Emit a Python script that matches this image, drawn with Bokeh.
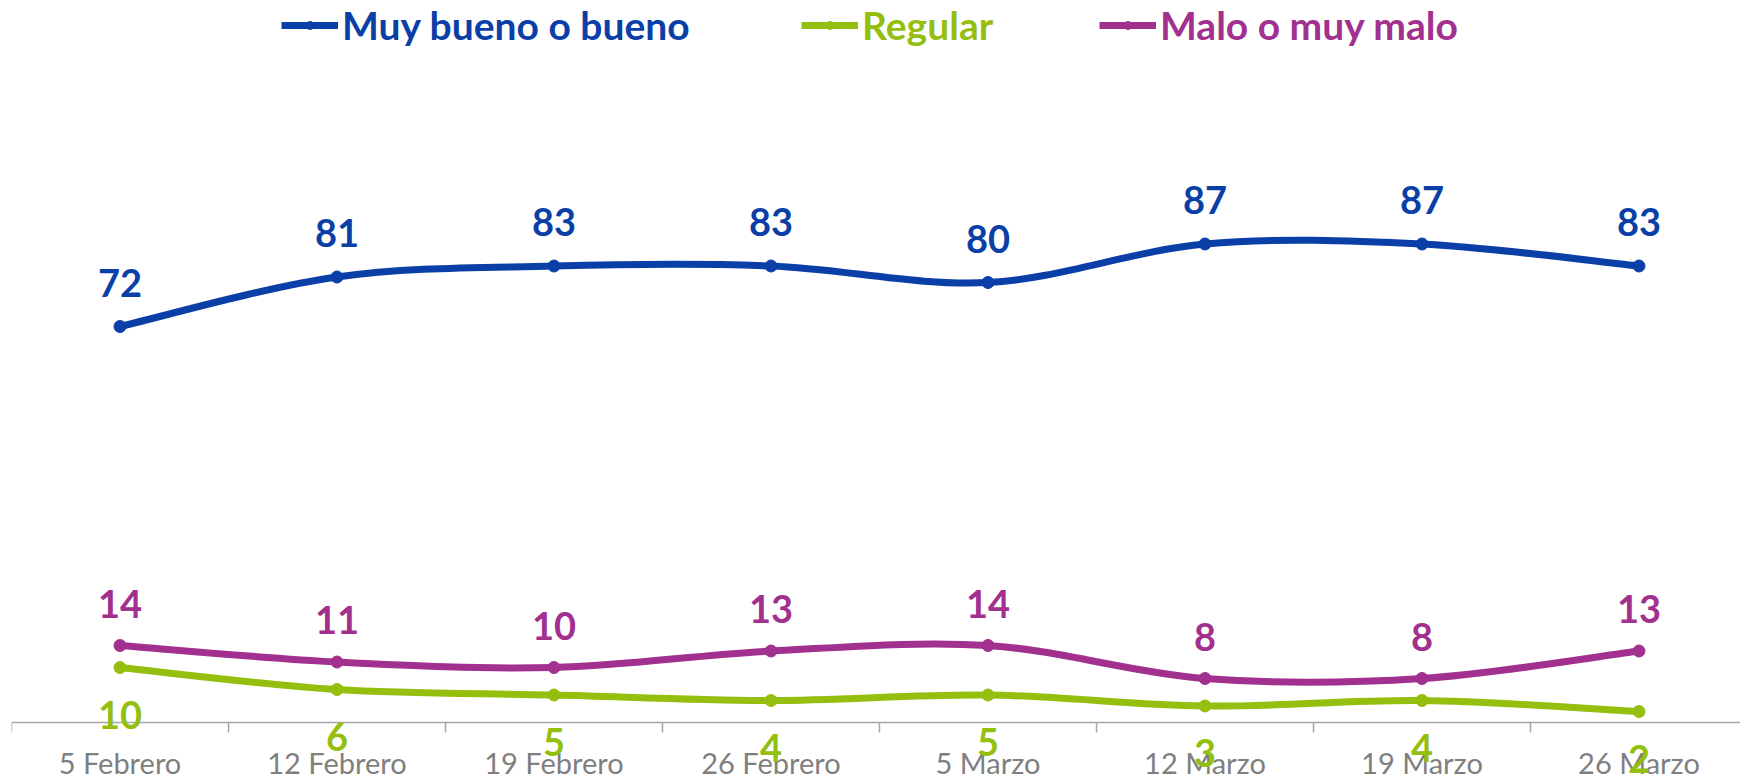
import math
from bokeh.plotting import figure
from bokeh.models import Range1d, FixedTicker, ColumnDataSource, LabelSet, Legend, LegendItem
from bokeh.core.properties import value
from bokeh.embed import file_html
from bokeh.resources import INLINE

categories = ["5 Febrero", "12 Febrero", "19 Febrero", "26 Febrero",
              "5 Marzo", "12 Marzo", "19 Marzo", "26 Marzo"]
muy_bueno = [72, 81, 83, 83, 80, 87, 87, 83]
regular = [10, 6, 5, 4, 5, 3, 4, 2]
malo = [14, 11, 10, 13, 14, 8, 8, 13]

series_names = ["Muy bueno o bueno", "Regular", "Malo o muy malo"]
series_colors = ["#0a3fa8", "#95bf0f", "#a2308f"]
label_offsets = [44, -47, 42]

W, H = 1740, 780
LEFT = 11
AXIS_Y = 722          # canvas pixel row of the value 0 / category axis
PX_PER_UNIT = 5.5
PX_PER_CAT = 217

p = figure(width=W, height=H, output_backend="svg", toolbar_location=None,
           x_range=Range1d(0, (W - LEFT) / PX_PER_CAT),
           y_range=Range1d(-(H - AXIS_Y) / PX_PER_UNIT, AXIS_Y / PX_PER_UNIT),
           min_border_left=LEFT, min_border_right=0, min_border_top=0, min_border_bottom=0,
           y_axis_location=None)
p.outline_line_color = None
p.xgrid.visible = False
p.ygrid.visible = False
p.background_fill_color = "white"
p.border_fill_color = "white"

n = len(categories)
xs = [i + 0.5 for i in range(n)]

ax = p.xaxis[0]
ax.fixed_location = 0
ax.ticker = FixedTicker(ticks=xs, minor_ticks=list(range(n + 1)))
ax.major_label_overrides = {x: c for x, c in zip(xs, categories)}
ax.major_tick_line_color = None
ax.major_tick_out = 0
ax.major_tick_in = 0
ax.minor_tick_line_color = "#a6a6a6"
ax.minor_tick_line_width = 1.5
ax.minor_tick_out = 10
ax.minor_tick_in = 0
ax.axis_line_color = "#a6a6a6"
ax.axis_line_width = 1.5
ax.major_label_text_font = "Lato"
ax.major_label_text_font_size = "29px"
ax.major_label_text_color = "#7f7f7f"
ax.major_label_standoff = 12


def bezier_segments(vals):
    pts = list(zip(xs, vals))
    out = {k: [] for k in ["x0", "y0", "x1", "y1", "cx0", "cy0", "cx1", "cy1"]}
    for i in range(n - 1):
        a = pts[max(i - 1, 0)]
        b = pts[i]
        c = pts[i + 1]
        d = pts[min(i + 2, n - 1)]
        out["x0"].append(b[0]); out["y0"].append(b[1])
        out["x1"].append(c[0]); out["y1"].append(c[1])
        out["cx0"].append(b[0] + (c[0] - a[0]) / 6); out["cy0"].append(b[1] + (c[1] - a[1]) / 6)
        out["cx1"].append(c[0] - (d[0] - b[0]) / 6); out["cy1"].append(c[1] - (d[1] - b[1]) / 6)
    return out


legend_x = [270, 790, 1088]
for vals, name, col, off, lx in zip([muy_bueno, regular, malo], series_names,
                                    series_colors, label_offsets, legend_x):
    seg = ColumnDataSource(bezier_segments(vals))
    p.bezier(x0="x0", y0="y0", x1="x1", y1="y1", cx0="cx0", cy0="cy0", cx1="cx1", cy1="cy1",
             source=seg, line_color=col, line_width=7, line_cap="round")
    src = ColumnDataSource(dict(x=xs, y=vals, t=[str(v) for v in vals]))
    sc = p.scatter("x", "y", source=src, size=12, color=col)
    p.add_layout(LabelSet(x="x", y="y", text="t", source=src, text_align="center",
                          text_baseline="middle", y_offset=off,
                          text_font=value("Lato"), text_font_style="bold",
                          text_font_size="38px", text_color=col))
    # legend swatch: a line with no drawable points, styled like the series
    dummy = p.line(x=[xs[0], xs[1]], y=[math.nan, math.nan], line_color=col, line_width=7)
    leg = Legend(items=[LegendItem(label=name, renderers=[dummy, sc])],
                 location=(lx, H - 24 - 24), orientation="horizontal",
                 glyph_width=57, glyph_height=20, label_standoff=4, padding=0, margin=0,
                 border_line_color=None, background_fill_alpha=0,
                 label_text_font="Lato", label_text_font_style="bold",
                 label_text_font_size="39px", label_text_color=col,
                 label_text_baseline="middle")
    p.add_layout(leg, "center")

open("out.html", "w").write(file_html(p, INLINE))
